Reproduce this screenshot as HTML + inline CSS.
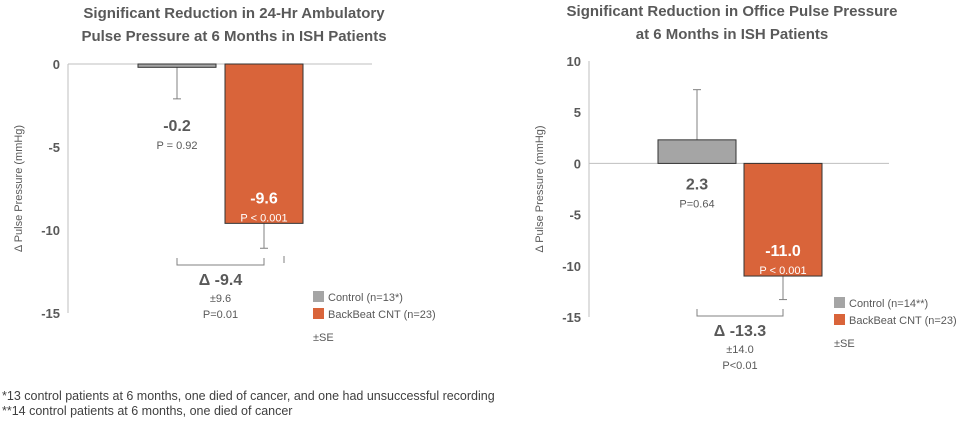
<!DOCTYPE html>
<html><head><meta charset="utf-8"><style>
html,body{margin:0;padding:0;background:#fff;width:966px;height:421px;overflow:hidden}
svg{display:block;font-family:"Liberation Sans",sans-serif}
</style></head><body>
<svg id="s" width="966" height="421" viewBox="0 0 966 421">
<text x="234" y="18" text-anchor="middle" font-size="15" font-weight="bold" fill="#595959">Significant Reduction in 24-Hr Ambulatory</text>
<text x="234" y="41" text-anchor="middle" font-size="15" font-weight="bold" fill="#595959">Pulse Pressure at 6 Months in ISH Patients</text>
<text x="732" y="16" text-anchor="middle" font-size="15" font-weight="bold" fill="#595959">Significant Reduction in Office Pulse Pressure</text>
<text x="732" y="39" text-anchor="middle" font-size="15" font-weight="bold" fill="#595959">at 6 Months in ISH Patients</text>
<text x="2" y="400" font-size="12.5" fill="#404040">*13 control patients at 6 months, one died of cancer, and one had unsuccessful recording</text>
<text x="2" y="415" font-size="12.5" fill="#404040">**14 control patients at 6 months, one died of cancer</text>
<line x1="284" x2="284" y1="256" y2="263" stroke="#808080"/>
</svg>
<script>
const categories=['Control','BackBeat CNT'];
const leftValues=[-0.2,-9.6];
const leftErr=[-2.1,-11.1];
const leftTicks=[0,-5,-10,-15];
const leftLabels=['-0.2','-9.6'];
const leftP=['P = 0.92','P < 0.001'];
const rightValues=[2.3,-11.0];
const rightErr=[7.2,-13.3];
const rightTicks=[10,5,0,-5,-10,-15];
const rightLabels=['2.3','-11.0'];
const rightP=['P=0.64','P < 0.001'];
const colors=['#a5a5a5','#d9643a'];
const svg=document.getElementById('s');
function el(t,a,txt){const e=document.createElementNS('http://www.w3.org/2000/svg',t);for(const k in a)e.setAttribute(k,a[k]);if(txt!==undefined)e.textContent=txt;svg.appendChild(e);return e;}
function chart(o){
 const y=v=>o.y0+(o.top-v)*(o.y1-o.y0)/(o.top-o.bot);
 const ax=el('line',{x1:o.ax,x2:o.ax,y1:y(o.top),y2:y(o.bot),stroke:'#bfbfbf'});
 
 const base=el('line',{x1:o.ax,x2:o.right,y1:y(0),y2:y(0),stroke:'#bfbfbf'});
 
 o.ticks.forEach(t=>{
  const tl=el('text',{x:o.ax-8,y:y(t)+5,'text-anchor':'end','font-size':13,'font-weight':'bold',fill:'#595959'},String(t));
  
 });
 const yt=el('text',{transform:`translate(${o.ax-46},${(y(o.top)+y(o.bot))/2}) rotate(-90)`,'text-anchor':'middle','font-size':11,fill:'#595959'},'Δ Pulse Pressure (mmHg)');
 
 o.vals.forEach((v,i)=>{
  const x=o.bx[i],w=78,cx=x+w/2;
  const eb=el('line',{x1:cx,x2:cx,y1:y(v),y2:y(o.err[i]),stroke:'#808080'});
  
  const ec=el('line',{x1:cx-4,x2:cx+4,y1:y(o.err[i]),y2:y(o.err[i]),stroke:'#808080'});
  
  const r=el('rect',{x:x,y:Math.min(y(v),y(0)),width:w,height:Math.abs(y(v)-y(0)),fill:colors[i],stroke:'#333','stroke-width':1});
  
  let ly,c;
  if(i===0){ly=(v<0?y(o.err[0]):y(0))+20;c='#595959';}else{ly=y(v)-26;c='#fff';}
  const l=el('text',{x:cx,y:ly+(i===0&&v<0?12:6),'text-anchor':'middle','font-size':16,'font-weight':'bold',fill:c},o.lab[i]);
  
  const pl=el('text',{x:cx,y:ly+(i===0&&v<0?30:24),'text-anchor':'middle','font-size':11,fill:c},o.pv[i]);
  
 });
 const c0=o.bx[0]+39,c1=o.bx[1]+39,by=o.brY;
 const br=el('path',{d:`M${c0} ${by-7}V${by}H${c1}V${by-7}`,fill:'none',stroke:'#808080'});
 
 const d=el('text',{x:(c0+c1)/2,y:by+20,'text-anchor':'middle','font-size':16,'font-weight':'bold',fill:'#595959'},o.delta[0]);
 
 const d2=el('text',{x:(c0+c1)/2,y:by+37,'text-anchor':'middle','font-size':11,fill:'#595959'},o.delta[1]);
 
 const d3=el('text',{x:(c0+c1)/2,y:by+53,'text-anchor':'middle','font-size':11,fill:'#595959'},o.delta[2]);
 
 o.leg.forEach((t,i)=>{
  const s=el('rect',{x:o.lx,y:o.ly+i*17,width:11,height:11,fill:colors[i]});
  
  const lt=el('text',{x:o.lx+15,y:o.ly+i*17+10,'font-size':11,fill:'#595959'},t);
  
 });
 const se=el('text',{x:o.lx,y:o.ly+50,'font-size':11,fill:'#595959'},'±SE');
 
}
chart({p:'left',ax:68,right:372,top:0,bot:-15,y0:64,y1:313,ticks:leftTicks,vals:leftValues,err:leftErr,lab:leftLabels,pv:leftP,bx:[138,225],brY:265,delta:['Δ -9.4','±9.6','P=0.01'],leg:['Control (n=13*)','BackBeat CNT (n=23)'],lx:313,ly:291});
chart({p:'right',ax:589,right:889,top:10,bot:-15,y0:61,y1:317,ticks:rightTicks,vals:rightValues,err:rightErr,lab:rightLabels,pv:rightP,bx:[658,744],brY:316,delta:['Δ -13.3','±14.0','P<0.01'],leg:['Control (n=14**)','BackBeat CNT (n=23)'],lx:834,ly:297});
</script>
</body></html>
